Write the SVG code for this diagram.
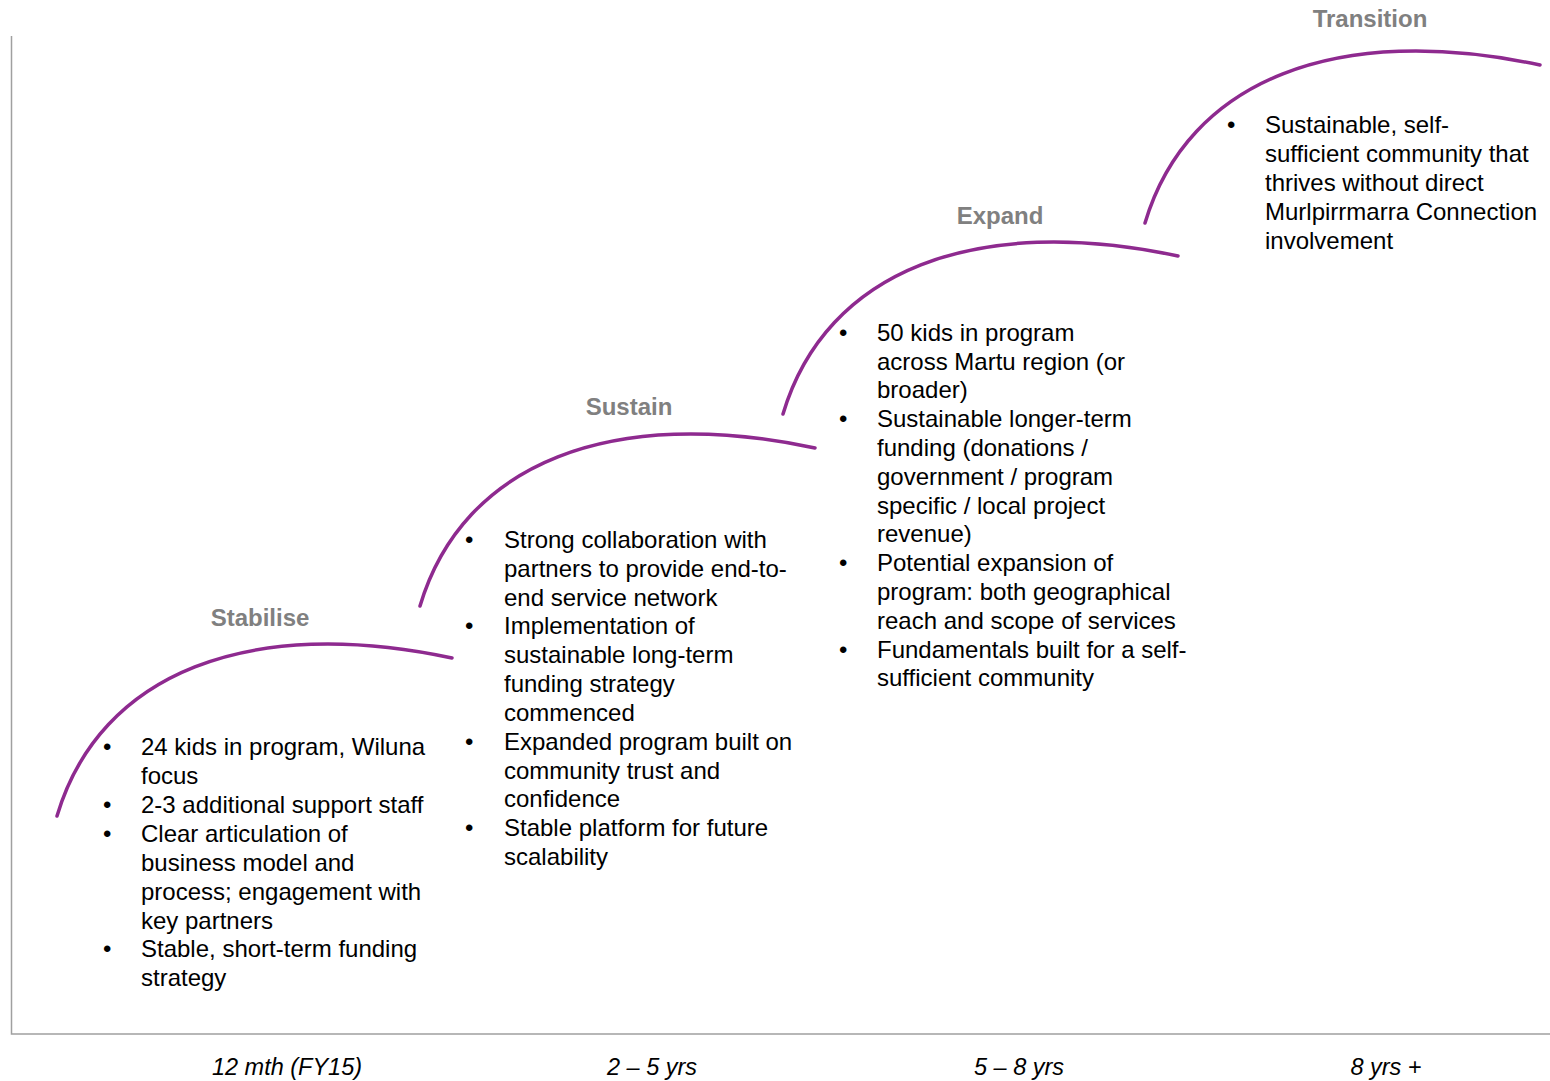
<svg xmlns="http://www.w3.org/2000/svg" width="1550" height="1081" viewBox="0 0 1550 1081">
<style>
.arc{fill:none;stroke:#8E2A8F;stroke-width:3.5;stroke-linecap:round}
.ttl{font-family:"Liberation Sans",Arial,sans-serif;font-size:24px;font-weight:bold;fill:#808080;text-anchor:middle}
.txt{font-family:"Liberation Sans",Arial,sans-serif;font-size:24px;fill:#000}
.ax{font-family:"Liberation Sans",Arial,sans-serif;font-size:23.5px;font-style:italic;fill:#000;text-anchor:middle}
.axis{fill:none;stroke:#A0A0A0;stroke-width:1.5}
</style>
<defs>
<path id="arcShape" class="arc" d="M0,0 c43,-144 193,-201 395,-158"/>
</defs>
<g id="axes">
<path class="axis" d="M11.5,36 V1034 H1550"/>
<text class="ax" x="287" y="1075">12 mth (FY15)</text>
<text class="ax" x="652" y="1075">2 – 5 yrs</text>
<text class="ax" x="1019" y="1075">5 – 8 yrs</text>
<text class="ax" x="1386" y="1075">8 yrs +</text>
</g>
<g id="connectors">
<use href="#arcShape" x="57" y="816"/>
<use href="#arcShape" x="420" y="606"/>
<use href="#arcShape" x="783" y="414"/>
<use href="#arcShape" x="1145" y="223"/>
</g>
<g id="stabilise">
<text class="ttl" x="260" y="626">Stabilise</text>
<text class="txt">
<tspan x="103" y="755">•</tspan><tspan x="141" y="755">24 kids in program, Wiluna</tspan>
<tspan x="141" y="784">focus</tspan>
<tspan x="103" y="813">•</tspan><tspan x="141" y="813">2-3 additional support staff</tspan>
<tspan x="103" y="842">•</tspan><tspan x="141" y="842">Clear articulation of</tspan>
<tspan x="141" y="871">business model and</tspan>
<tspan x="141" y="900">process; engagement with</tspan>
<tspan x="141" y="929">key partners</tspan>
<tspan x="103" y="957">•</tspan><tspan x="141" y="957">Stable, short-term funding</tspan>
<tspan x="141" y="986">strategy</tspan>
</text>
</g>
<g id="sustain">
<text class="ttl" x="629" y="415">Sustain</text>
<text class="txt">
<tspan x="465" y="548">•</tspan><tspan x="504" y="548">Strong collaboration with</tspan>
<tspan x="504" y="577">partners to provide end-to-</tspan>
<tspan x="504" y="606">end service network</tspan>
<tspan x="465" y="634">•</tspan><tspan x="504" y="634">Implementation of</tspan>
<tspan x="504" y="663">sustainable long-term</tspan>
<tspan x="504" y="692">funding strategy</tspan>
<tspan x="504" y="721">commenced</tspan>
<tspan x="465" y="750">•</tspan><tspan x="504" y="750">Expanded program built on</tspan>
<tspan x="504" y="779">community trust and</tspan>
<tspan x="504" y="807">confidence</tspan>
<tspan x="465" y="836">•</tspan><tspan x="504" y="836">Stable platform for future</tspan>
<tspan x="504" y="865">scalability</tspan>
</text>
</g>
<g id="expand">
<text class="ttl" x="1000" y="224">Expand</text>
<text class="txt">
<tspan x="839" y="341">•</tspan><tspan x="877" y="341">50 kids in program</tspan>
<tspan x="877" y="370">across Martu region (or</tspan>
<tspan x="877" y="398">broader)</tspan>
<tspan x="839" y="427">•</tspan><tspan x="877" y="427">Sustainable longer-term</tspan>
<tspan x="877" y="456">funding (donations /</tspan>
<tspan x="877" y="485">government / program</tspan>
<tspan x="877" y="514">specific / local project</tspan>
<tspan x="877" y="542">revenue)</tspan>
<tspan x="839" y="571">•</tspan><tspan x="877" y="571">Potential expansion of</tspan>
<tspan x="877" y="600">program: both geographical</tspan>
<tspan x="877" y="629">reach and scope of services</tspan>
<tspan x="839" y="658">•</tspan><tspan x="877" y="658">Fundamentals built for a self-</tspan>
<tspan x="877" y="686">sufficient community</tspan>
</text>
</g>
<g id="transition">
<text class="ttl" x="1370" y="27">Transition</text>
<text class="txt">
<tspan x="1227" y="133">•</tspan><tspan x="1265" y="133">Sustainable, self-</tspan>
<tspan x="1265" y="162">sufficient community that</tspan>
<tspan x="1265" y="191">thrives without direct</tspan>
<tspan x="1265" y="220">Murlpirrmarra Connection</tspan>
<tspan x="1265" y="249">involvement</tspan>
</text>
</g>
</svg>
